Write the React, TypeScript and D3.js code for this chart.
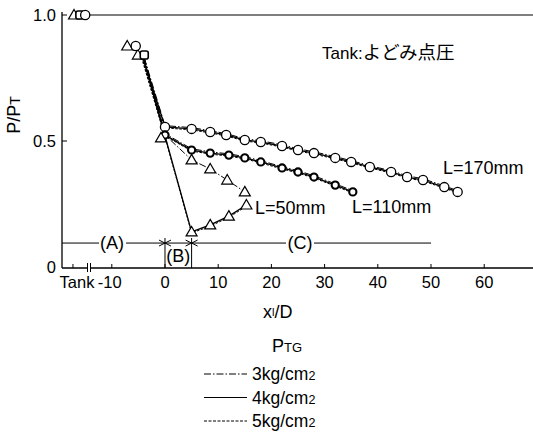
import React from "react";
import * as d3 from "d3";

// x positions (x_l/D) and P/PT values
const TANK_TRI_X = [-17.1];
const TANK_SQ_X = [-16.0];
const TANK_CIR_X = [-15.0];
const TANK_Y = 1.0;

// inlet markers
const INLET_TRI = [[-7.1, 0.877], [-5.1, 0.841]];
const INLET_SQ = [[-3.9, 0.841]];
const INLET_CIR = [[-5.5, 0.877]];
const INLET_START = [-4.1, 0.83];

const L170_X = [0, 5, 8.5, 11.5, 15, 18, 22, 25, 28, 32, 35, 38.5, 42.5, 45.5, 48.5, 52.5, 55];
const L170_P3 = [0.561, 0.553, 0.541, 0.529, 0.509, 0.501, 0.485, 0.469, 0.457, 0.438, 0.422, 0.402, 0.382, 0.362, 0.35, 0.322, 0.303];
const L170_P4 = [0.556, 0.548, 0.536, 0.524, 0.504, 0.496, 0.48, 0.464, 0.452, 0.433, 0.417, 0.397, 0.377, 0.357, 0.345, 0.317, 0.298];
const L170_P5 = [0.552, 0.544, 0.532, 0.52, 0.5, 0.492, 0.476, 0.46, 0.448, 0.429, 0.413, 0.393, 0.373, 0.353, 0.341, 0.313, 0.294];

const L110_X = [0, 5, 8.5, 12, 15, 18, 22, 25, 28, 32, 35.3];
const L110_P3 = [0.529, 0.469, 0.457, 0.449, 0.438, 0.422, 0.398, 0.382, 0.362, 0.33, 0.303];
const L110_P4 = [0.524, 0.464, 0.452, 0.444, 0.433, 0.417, 0.393, 0.377, 0.357, 0.325, 0.298];
const L110_P5 = [0.52, 0.46, 0.448, 0.44, 0.429, 0.413, 0.389, 0.373, 0.353, 0.321, 0.294];

const L50_X3 = [0, 5, 8.5, 11.7, 15];
const L50_P3 = [0.524, 0.425, 0.389, 0.345, 0.298];
const L50_X45 = [0, 5, 8.5, 12, 15.3];
const L50_P4 = [0.52, 0.139, 0.167, 0.202, 0.246];
const L50_P5 = [0.515, 0.135, 0.162, 0.197, 0.241];

const X_TICKS = [-10, 0, 10, 20, 30, 40, 50, 60];
const TANK_TICK = -17.3;
const Y_TICKS = [0, 0.5, 1.0];
const Y_TICK_LABELS = ["0", "0.5", "1.0"];

const REGION_Y = 0.095;
const REGION_BOUNDS = [0, 5, 50];

const LEGEND_LABELS = ["3kg/cm", "4kg/cm", "5kg/cm"];
const DASHES = ["7,2,1.5,2", "none", "2.5,1.5"];

const FONT = "'Liberation Sans', Arial, sans-serif";

export default function App() {
  const W = 533, H = 441;
  const x = d3.scaleLinear().domain([-19.36, 69.17]).range([62, 533]);
  const y = d3.scaleLinear().domain([0, 1]).range([267, 15]);
  const line = d3.line<[number, number]>().x(d => x(d[0])).y(d => y(d[1]));

  const zip = (xs: number[], ys: number[]) => xs.map((v, i) => [v, ys[i]] as [number, number]);
  const withInlet = (pts: [number, number][], dx: number) =>
    [[INLET_START[0] + dx, INLET_START[1]] as [number, number], ...pts];

  const series = [
    { pts: withInlet(zip(L170_X, L170_P3), 0.2), dash: DASHES[0], w: 1 },
    { pts: withInlet(zip(L170_X, L170_P4), 0), dash: DASHES[1], w: 1.3 },
    { pts: withInlet(zip(L170_X, L170_P5), -0.2), dash: DASHES[2], w: 1 },
    { pts: withInlet(zip(L110_X, L110_P3), 0.2), dash: DASHES[0], w: 1 },
    { pts: withInlet(zip(L110_X, L110_P4), 0), dash: DASHES[1], w: 1.3 },
    { pts: withInlet(zip(L110_X, L110_P5), -0.2), dash: DASHES[2], w: 1 },
    { pts: withInlet(zip(L50_X3, L50_P3), 0.2), dash: DASHES[0], w: 1 },
    { pts: withInlet(zip(L50_X45, L50_P4), 0), dash: DASHES[1], w: 1.3 },
    { pts: withInlet(zip(L50_X45, L50_P5), -0.3), dash: DASHES[2], w: 1 },
  ];

  const tri = (cx: number, cy: number, k: string) => (
    <path key={k} d={`M${cx},${cy - 5.5}L${cx + 5.5},${cy + 4}L${cx - 5.5},${cy + 4}Z`} fill="#fff" stroke="#000" strokeWidth={1.2} />
  );
  const cir = (cx: number, cy: number, k: string) => (
    <circle key={k} cx={cx} cy={cy} r={4.6} fill="#fff" stroke="#000" strokeWidth={1.3} />
  );
  const sq = (cx: number, cy: number, k: string) => (
    <rect key={k} x={cx - 4} y={cy - 4} width={8} height={8} rx={2} fill="#fff" stroke="#000" strokeWidth={1.6} />
  );
  const bold = (cx: number, cy: number, k: string) => (
    <circle key={k} cx={cx} cy={cy} r={3.6} fill="#fff" stroke="#000" strokeWidth={2.1} />
  );

  const ry = y(REGION_Y);
  const x0 = x(REGION_BOUNDS[0]);
  const x5 = x(REGION_BOUNDS[1]);
  const x50 = x(REGION_BOUNDS[2]);
  const arrowR = (px: number) => `M${px - 6},${ry - 3}L${px},${ry}L${px - 6},${ry + 3}`;
  const arrowL = (px: number) => `M${px + 6},${ry - 3}L${px},${ry}L${px + 6},${ry + 3}`;

  return (
    <svg width={W} height={H} style={{ position: "absolute", left: 0, top: 0, background: "#fff" }} fontFamily={FONT}>
      <rect width={W} height={H} fill="#fff" />
      {/* axes */}
      <line x1={62} x2={62} y1={12} y2={268} stroke="#000" strokeWidth={1.3} />
      <line x1={62} x2={533} y1={268} y2={268} stroke="#000" strokeWidth={1.3} />
      {/* P/PT = 1 line */}
      <line x1={x(TANK_CIR_X[0])} x2={533} y1={y(TANK_Y)} y2={y(TANK_Y)} stroke="#000" strokeWidth={1.1} />
      {Y_TICKS.map((t, i) => (
        <g key={"yt" + i}>
          {t > 0 && <line x1={62} x2={67} y1={y(t)} y2={y(t)} stroke="#000" strokeWidth={1} />}
          <text x={56} y={y(t) + 6} textAnchor="end" fontSize={16.5}>{Y_TICK_LABELS[i]}</text>
        </g>
      ))}
      {X_TICKS.map(t => (
        <g key={"xt" + t}>
          <line x1={x(t)} x2={x(t)} y1={268} y2={264} stroke="#000" strokeWidth={1} />
          <text x={x(t) + (t === -10 ? -2 : 0)} y={288} textAnchor="middle" fontSize={16.5}>{t}</text>
        </g>
      ))}
      <line x1={x(TANK_TICK)} x2={x(TANK_TICK)} y1={268} y2={264} stroke="#000" strokeWidth={1} />
      <text x={77} y={288} textAnchor="middle" fontSize={16.5}>Tank</text>
      {/* axis break */}
      <rect x={87.5} y={265} width={3} height={6} fill="#fff" />
      <line x1={87.5} x2={87.5} y1={263} y2={272} stroke="#000" strokeWidth={1} />
      <line x1={90.5} x2={90.5} y1={263} y2={272} stroke="#000" strokeWidth={1} />

      {/* region markers */}
      <line x1={62} x2={x50} y1={ry} y2={ry} stroke="#000" strokeWidth={1} />
      <line x1={x0} x2={x0} y1={238} y2={268} stroke="#000" strokeWidth={1} />
      <line x1={x5} x2={x5} y1={238} y2={268} stroke="#000" strokeWidth={1} />
      <path d={arrowR(x0)} fill="none" stroke="#000" strokeWidth={1} />
      <path d={arrowL(x0)} fill="none" stroke="#000" strokeWidth={1} />
      <path d={arrowR(x5)} fill="none" stroke="#000" strokeWidth={1} />
      <path d={arrowL(x5)} fill="none" stroke="#000" strokeWidth={1} />
      <rect x={99} y={ry - 8} width={27} height={16} fill="#fff" />
      <text x={112} y={ry + 6} textAnchor="middle" fontSize={18}>(A)</text>
      <text x={(x0 + x5) / 2} y={262} textAnchor="middle" fontSize={18}>(B)</text>
      <rect x={286} y={ry - 8} width={28} height={16} fill="#fff" />
      <text x={300} y={ry + 6} textAnchor="middle" fontSize={18}>(C)</text>

      {/* data lines */}
      {series.map((s, i) => (
        <path key={"s" + i} d={line(s.pts) || ""} fill="none" stroke="#000" strokeWidth={s.w}
          strokeDasharray={s.dash === "none" ? undefined : s.dash} />
      ))}

      {/* markers */}
      {TANK_TRI_X.map((v, i) => tri(x(v), y(TANK_Y), "tt" + i))}
      {TANK_SQ_X.map((v, i) => sq(x(v), y(TANK_Y), "ts" + i))}
      {TANK_CIR_X.map((v, i) => cir(x(v), y(TANK_Y), "tc" + i))}
      {INLET_TRI.map((p, i) => tri(x(p[0]), y(p[1]), "it" + i))}
      {INLET_CIR.map((p, i) => cir(x(p[0]), y(p[1]), "ic" + i))}
      {INLET_SQ.map((p, i) => sq(x(p[0]), y(p[1]), "is" + i))}
      {L170_X.map((v, i) => cir(x(v), y(L170_P4[i]), "c170" + i))}
      {L110_X.map((v, i) => bold(x(v), y(L110_P4[i]), "s110" + i))}
      {L50_X3.map((v, i) => tri(x(v) - (i === 0 ? 4 : 0), y(L50_P3[i]) + (i === 0 ? 3 : 0), "t3" + i))}
      {L50_X45.slice(1).map((v, i) => tri(x(v), y(L50_P4[i + 1]), "t4" + i))}

      {/* annotations */}
      <text x={322} y={59} fontSize={17}>Tank:<tspan fontFamily="'Noto Sans CJK JP', sans-serif" fontSize={18.5}>よどみ点圧</tspan></text>
      <text x={255} y={214} fontSize={18}>L=50mm</text>
      <text x={352} y={213} fontSize={18}>L=110mm</text>
      <text x={443} y={174} fontSize={18}>L=170mm</text>

      {/* axis titles */}
      <text transform="translate(20,115) rotate(-90)" textAnchor="middle" fontSize={18}>
        P/P<tspan fontSize={14}>T</tspan>
      </text>
      <text x={263} y={318} fontSize={18}>x<tspan fontSize={11} dy={-2}>l</tspan><tspan dy={2}>/D</tspan></text>

      {/* legend */}
      <text x={272} y={352} fontSize={18}>P<tspan fontSize={13}>TG</tspan></text>
      {LEGEND_LABELS.map((lab, i) => {
        const ly = 374 + i * 23.5;
        return (
          <g key={"lg" + i}>
            <line x1={204} x2={247} y1={ly} y2={ly} stroke="#000" strokeWidth={1}
              strokeDasharray={DASHES[i] === "none" ? undefined : (i === 2 ? "3,1.5" : DASHES[i])} />
            <text x={252} y={ly + 6} fontSize={17.5}>{lab}<tspan fontSize={12.5}>2</tspan></text>
          </g>
        );
      })}
    </svg>
  );
}
